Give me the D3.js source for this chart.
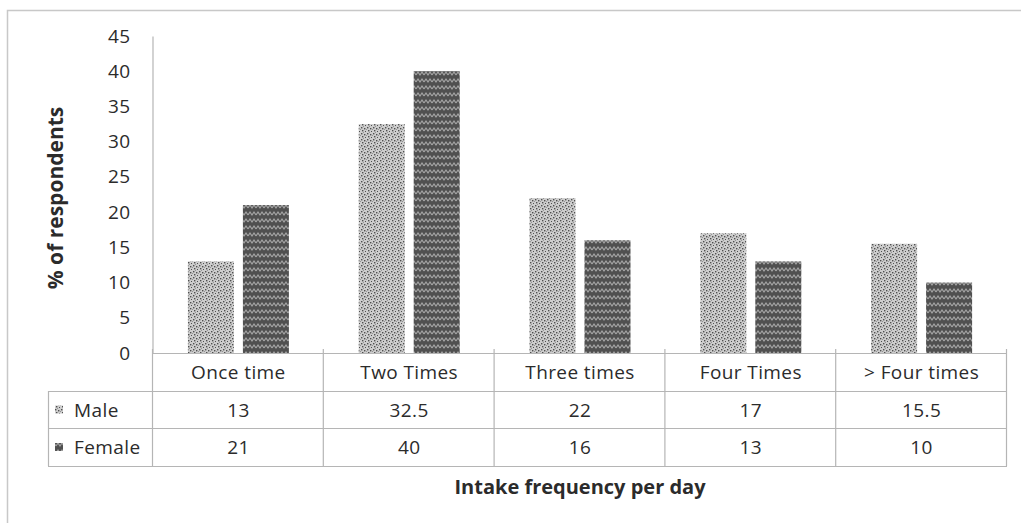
<!DOCTYPE html>
<html>
<head>
<meta charset="utf-8">
<script src="https://cdn.jsdelivr.net/npm/d3@7"></script>
<style>
  html, body { margin: 0; padding: 0; background: #fff; }
  svg text { font-family: "Open Sans", Lato, "Liberation Sans", sans-serif; fill: #2b2b2b; }
  .lbl { font-size: 19px; letter-spacing: 0.4px; }
</style>
</head>
<body>
<svg id="chart" width="1021" height="523"></svg>
<script>
// Intake frequency per day by sex (% of respondents)
const categories = ["Once time", "Two Times", "Three times", "Four Times", "> Four times"];
const seriesNames = ["Male", "Female"];
const maleValues = [13, 32.5, 22, 17, 15.5];
const femaleValues = [21, 40, 16, 13, 10];
const yTicks = [0, 5, 10, 15, 20, 25, 30, 35, 40, 45];
const yTitle = "% of respondents";
const xTitle = "Intake frequency per day";

const seriesValues = [maleValues, femaleValues];

const svg = d3.select("#chart");
const defs = svg.append("defs");

// Light dotted fill for the first series
const pm = defs.append("pattern").attr("id", "pat-male")
  .attr("patternUnits", "userSpaceOnUse").attr("width", 6).attr("height", 6);
pm.append("rect").attr("width", 6).attr("height", 6).attr("fill", "#cdcdcd");
[[1,1],[4,2],[2,4],[5,5]].forEach(([x, y]) =>
  pm.append("rect").attr("x", x).attr("y", y).attr("width", 1.4).attr("height", 1.4).attr("fill", "#505050"));
[[0,3],[3,0]].forEach(([x, y]) =>
  pm.append("rect").attr("x", x).attr("y", y).attr("width", 1).attr("height", 1).attr("fill", "#949494"));

// Dark herringbone weave for the second series
const pf = defs.append("pattern").attr("id", "pat-female")
  .attr("patternUnits", "userSpaceOnUse").attr("width", 8).attr("height", 7);
pf.append("rect").attr("width", 8).attr("height", 7).attr("fill", "#505050");
pf.append("path").attr("d", "M0,5 L2,2 L4,5 L6,2 L8,5")
  .attr("fill", "none").attr("stroke", "#a5a5a5").attr("stroke-width", 1.2);

const patterns = ["url(#pat-male)", "url(#pat-female)"];

// Outer chart frame
svg.append("rect").attr("x", 7.5).attr("y", 10.5).attr("width", 1030).attr("height", 530)
  .attr("fill", "none").attr("stroke", "#c8c8c8").attr("stroke-width", 1.5);

const plotLeft = 153, plotRight = 1007, plotTop = 36, plotBottom = 353;

const x = d3.scaleBand().domain(categories).range([plotLeft, plotRight]).paddingInner(0).paddingOuter(0);
const y = d3.scaleLinear().domain([0, 45]).range([plotBottom, plotTop]);
const barW = 46, barGap = 9;

// Y axis
const yAxis = svg.append("g").attr("transform", `translate(${plotLeft - 0.5},0)`)
  .call(d3.axisLeft(y).tickValues(yTicks).tickSize(0).tickPadding(22));
yAxis.select(".domain").attr("stroke", "#b5b5b5").attr("stroke-width", 1.2);
yAxis.selectAll("text").attr("class", "lbl").attr("font-size", null).attr("fill", "#2b2b2b")
  .style("font-family", "'Open Sans', Lato, sans-serif");

// Bars
categories.forEach((c, i) => {
  seriesValues.forEach((vals, s) => {
    const bx = x(c) + x.bandwidth() / 2 - (barW * 2 + barGap) / 2 + s * (barW + barGap);
    svg.append("rect")
      .attr("x", bx).attr("y", y(vals[i]))
      .attr("width", barW).attr("height", y(0) - y(vals[i]))
      .attr("fill", patterns[s]);
  });
});

// Data table under the plot
const rowTop = [353, 391, 428], rowBottom = 466, tableLeft = 48;
const g = svg.append("g").attr("stroke", "#b5b5b5").attr("stroke-width", 1.2);
// horizontal rules
g.append("line").attr("x1", plotLeft).attr("x2", plotRight).attr("y1", rowTop[0] + 0.5).attr("y2", rowTop[0] + 0.5);
[rowTop[1], rowTop[2], rowBottom].forEach(yy =>
  g.append("line").attr("x1", tableLeft).attr("x2", plotRight).attr("y1", yy + 0.5).attr("y2", yy + 0.5));
// vertical rules
g.append("line").attr("x1", tableLeft + 0.5).attr("x2", tableLeft + 0.5).attr("y1", rowTop[1]).attr("y2", rowBottom);
[plotLeft, ...categories.map(c => x(c) + x.bandwidth())].forEach(xx =>
  g.append("line").attr("x1", xx - 0.5).attr("x2", xx - 0.5).attr("y1", rowTop[0] - 4).attr("y2", rowBottom));

// header row: category names
categories.forEach(c => {
  svg.append("text").attr("class", "lbl").attr("x", x(c) + x.bandwidth() / 2).attr("y", (rowTop[0] + rowTop[1]) / 2 + 7)
    .attr("text-anchor", "middle").text(c);
});
// value rows with legend keys
const rowMid = [(rowTop[1] + rowTop[2]) / 2, (rowTop[2] + rowBottom) / 2];
seriesNames.forEach((name, s) => {
  svg.append("rect").attr("x", 55).attr("y", rowMid[s] - 4).attr("width", 8).attr("height", 8)
    .attr("fill", patterns[s]);
  svg.append("text").attr("class", "lbl").attr("x", 74).attr("y", rowMid[s] + 7).text(name);
  categories.forEach((c, i) => {
    svg.append("text").attr("class", "lbl").attr("x", x(c) + x.bandwidth() / 2).attr("y", rowMid[s] + 7)
      .attr("text-anchor", "middle").text(seriesValues[s][i]);
  });
});

// Axis titles
svg.append("text").attr("transform", "translate(63,198) rotate(-90)")
  .attr("text-anchor", "middle").attr("font-size", 21).attr("font-weight", "bold").text(yTitle);
svg.append("text").attr("x", 580).attr("y", 494)
  .attr("text-anchor", "middle").attr("font-size", 20).attr("font-weight", "bold").text(xTitle);
</script>
</body>
</html>
